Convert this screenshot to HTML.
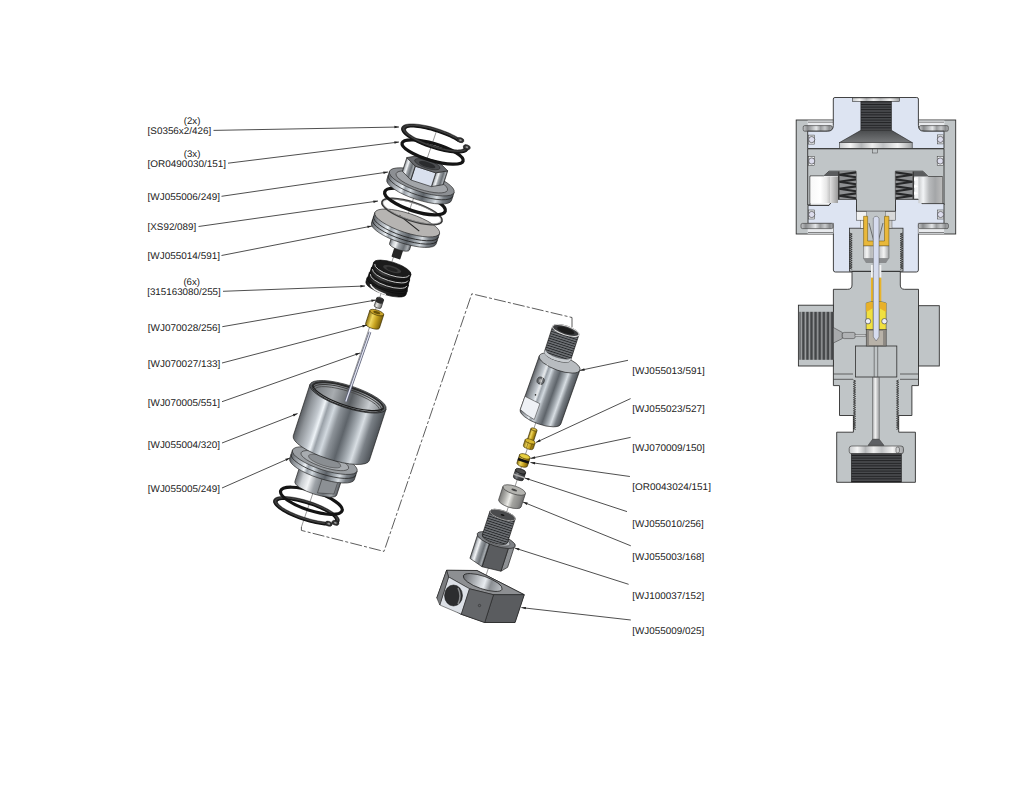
<!DOCTYPE html>
<html><head><meta charset="utf-8"><style>
html,body{margin:0;padding:0;background:#fff;}
svg{display:block;}
</style></head><body>
<svg width="1024" height="790" viewBox="0 0 1024 790">
<defs>
<linearGradient id="met" x1="0" x2="1" y1="0" y2="0">
 <stop offset="0" stop-color="#5a5e63"/><stop offset="0.08" stop-color="#8e9398"/>
 <stop offset="0.2" stop-color="#c4cad0"/><stop offset="0.25" stop-color="#eef3f7"/><stop offset="0.3" stop-color="#9aa1a8"/>
 <stop offset="0.38" stop-color="#d2d9df"/><stop offset="0.46" stop-color="#8c9298"/>
 <stop offset="0.58" stop-color="#5e646a"/><stop offset="0.72" stop-color="#aeb5bb"/><stop offset="0.78" stop-color="#d8dee3"/>
 <stop offset="0.88" stop-color="#7a8086"/><stop offset="1" stop-color="#4e5358"/>
</linearGradient>
<linearGradient id="met2" x1="0" x2="1" y1="0" y2="0">
 <stop offset="0" stop-color="#6a6e73"/><stop offset="0.15" stop-color="#c9cdd1"/>
 <stop offset="0.3" stop-color="#f2f4f6"/><stop offset="0.45" stop-color="#9da2a7"/>
 <stop offset="0.7" stop-color="#6b7075"/><stop offset="0.88" stop-color="#a8adb1"/>
 <stop offset="1" stop-color="#55595e"/>
</linearGradient>
<linearGradient id="blk" x1="0" x2="1" y1="0" y2="0">
 <stop offset="0" stop-color="#1a1a1a"/><stop offset="0.3" stop-color="#3a3a3a"/><stop offset="0.6" stop-color="#1e1e1e"/><stop offset="1" stop-color="#101010"/>
</linearGradient>
<linearGradient id="dark" x1="0" x2="1" y1="0" y2="0">
 <stop offset="0" stop-color="#3a3c3f"/><stop offset="0.3" stop-color="#7a7d80"/>
 <stop offset="0.5" stop-color="#4a4c4f"/><stop offset="1" stop-color="#2a2c2e"/>
</linearGradient>
<linearGradient id="brass" x1="0" x2="1" y1="0" y2="0">
 <stop offset="0" stop-color="#8a7010"/><stop offset="0.3" stop-color="#f0d860"/>
 <stop offset="0.6" stop-color="#c8a420"/><stop offset="1" stop-color="#7a6008"/>
</linearGradient>
<linearGradient id="silv2" x1="0" x2="1" y1="0" y2="0">
 <stop offset="0" stop-color="#7a7a78"/><stop offset="0.25" stop-color="#b8b8b4"/><stop offset="0.42" stop-color="#ecece8"/>
 <stop offset="0.6" stop-color="#a4a4a0"/><stop offset="0.85" stop-color="#8a8a88"/><stop offset="1" stop-color="#6a6a6a"/>
</linearGradient>
<linearGradient id="silv" x1="0" x2="1" y1="0" y2="0">
 <stop offset="0" stop-color="#8a8a88"/><stop offset="0.3" stop-color="#e8e8e4"/>
 <stop offset="0.6" stop-color="#b0b0ac"/><stop offset="1" stop-color="#707070"/>
</linearGradient>
<linearGradient id="ringg" x1="0" x2="1" y1="0" y2="0">
 <stop offset="0" stop-color="#c8cacc"/><stop offset="0.15" stop-color="#8a8c8e"/><stop offset="0.3" stop-color="#b4b6b8"/><stop offset="0.45" stop-color="#e4e6e8"/>
 <stop offset="0.6" stop-color="#9a9c9e"/><stop offset="0.75" stop-color="#c8cacc"/><stop offset="0.9" stop-color="#8a8c8e"/><stop offset="1" stop-color="#b0b2b4"/>
</linearGradient>
<linearGradient id="gap" x1="0" x2="1" y1="0" y2="0">
 <stop offset="0" stop-color="#e0e0e0"/><stop offset="1" stop-color="#9a9a9a"/>
</linearGradient>
<linearGradient id="silvh" x1="0" x2="1" y1="0" y2="0">
 <stop offset="0" stop-color="#c8cacc"/><stop offset="0.15" stop-color="#f6f6f6"/><stop offset="0.3" stop-color="#b4b6b8"/>
 <stop offset="0.45" stop-color="#eeeeee"/><stop offset="0.6" stop-color="#c0c2c4"/><stop offset="0.8" stop-color="#f4f4f4"/><stop offset="1" stop-color="#a0a2a4"/>
</linearGradient>
<linearGradient id="cone" x1="0" x2="0" y1="0" y2="1">
 <stop offset="0" stop-color="#4a4c4e"/><stop offset="1" stop-color="#76787a"/>
</linearGradient>
<linearGradient id="cupL" x1="0" x2="1" y1="0" y2="0">
 <stop offset="0" stop-color="#f8f8f8"/><stop offset="0.5" stop-color="#ffffff"/><stop offset="0.8" stop-color="#e6e6e6"/><stop offset="1" stop-color="#bdbdbd"/>
</linearGradient>
<linearGradient id="cupR" x1="0" x2="1" y1="0" y2="0">
 <stop offset="0" stop-color="#c8cacc"/><stop offset="0.2" stop-color="#f2f4f6"/><stop offset="0.45" stop-color="#b8babc"/><stop offset="0.7" stop-color="#a4a6a8"/><stop offset="1" stop-color="#bcbcbc"/>
</linearGradient>
<linearGradient id="stemg" x1="0" x2="1" y1="0" y2="0">
 <stop offset="0" stop-color="#a0a2a4"/><stop offset="0.4" stop-color="#f4f4f4"/><stop offset="1" stop-color="#9a9c9e"/>
</linearGradient>
<pattern id="portthr" width="4.1" height="10" patternUnits="userSpaceOnUse" x="799.4">
 <rect width="4.1" height="10" fill="#444648"/><rect x="1.2" width="1.2" height="10" fill="#a8aaac"/><rect x="2.4" width="0.6" height="10" fill="#6a6c6e"/>
</pattern>
<linearGradient id="inner" x1="0" x2="1" y1="0" y2="0">
 <stop offset="0" stop-color="#6a6e72"/><stop offset="0.3" stop-color="#a8acb0"/><stop offset="0.55" stop-color="#5a5e62"/><stop offset="0.8" stop-color="#c8ccd0"/><stop offset="1" stop-color="#7a7e82"/>
</linearGradient>
<linearGradient id="holeg" x1="0" x2="1" y1="0" y2="0">
 <stop offset="0" stop-color="#6a6c70"/><stop offset="0.35" stop-color="#b8bcc0"/><stop offset="0.55" stop-color="#e8ecf0"/><stop offset="0.7" stop-color="#8a8e92"/><stop offset="1" stop-color="#c0c4c8"/>
</linearGradient>
<pattern id="thr2" width="4" height="2.4" patternUnits="userSpaceOnUse">
 <rect width="4" height="2.4" fill="#6e7175"/><rect width="4" height="0.9" fill="#26282a"/>
</pattern>
<pattern id="thr" width="4" height="2.6" patternUnits="userSpaceOnUse">
 <rect width="4" height="2.6" fill="#4a4c4f"/><rect width="4" height="1" fill="#1e1f21"/>
</pattern>
</defs>
<rect width="1024" height="790" fill="#fff"/>
<g id="cs"><rect x="796.2" y="120" width="159.5" height="114" fill="#c0c5c7" stroke="#2f2f2f" stroke-width="0.9"/><rect x="807.7" y="120.6" width="26" height="10.6" fill="#e9ebee"/><rect x="918.4" y="120.6" width="26" height="10.6" fill="#e9ebee"/><rect x="803.2" y="125.6" width="29" height="5.6" rx="1.5" fill="url(#ringg)" stroke="#333" stroke-width="0.6"/><rect x="919.3" y="125.6" width="29" height="5.6" rx="1.5" fill="url(#ringg)" stroke="#333" stroke-width="0.6"/><line x1="808" y1="122.2" x2="833" y2="122.2" stroke="#555" stroke-width="0.7"/><line x1="919" y1="122.2" x2="944" y2="122.2" stroke="#555" stroke-width="0.7"/><path d="M833.3,99 Q833.3,97.5 835,97.5 H916.7 Q918.4,97.5 918.4,99 V125.5 Q918.4,131.2 924,131.2 H944 V148.5 H807.7 V131.2 H827.6 Q833.3,131.2 833.3,125.5 Z" fill="#dde4f2" stroke="#2f2f2f" stroke-width="0.9"/><rect x="852.5" y="97.9" width="46.9" height="3.4" fill="url(#silvh)" stroke="#333" stroke-width="0.6"/><rect x="860.9" y="101.3" width="30.5" height="29" fill="url(#thr)" stroke="#222" stroke-width="0.6"/><polygon points="860.9,130.3 891.4,130.3 912.2,142.6 839.5,142.6" fill="url(#cone)" stroke="#222" stroke-width="0.6"/><rect x="839.5" y="142.6" width="72.7" height="5.8" fill="url(#silvh)" stroke="#333" stroke-width="0.6"/><path d="M807.7,148.8 H944 V205 H895.5 V211.4 H856.5 V205 H807.7 Z" fill="#c0c5c7" stroke="#2f2f2f" stroke-width="0.9"/><rect x="872.5" y="149" width="5" height="4" fill="#c0c5c7" stroke="#444" stroke-width="0.5"/><path d="M808,205.3 H829 L833.4,199.2 H856.5 V211.4 H895.5 V199.2 H918.4 L922,203.6 H944 V223.4 H918.4 V270 Q918.4,272 916.4,272 H835.4 Q833.4,272 833.4,270 V223.4 H808 Z" fill="#dde4f2" stroke="#2f2f2f" stroke-width="0.9"/><polygon points="810,176 823.7,176 829,171.2 856,171.2 856,199.2 833.4,199.2 829,205.3 810,205.3" fill="#f2f3f4" stroke="#222" stroke-width="0.8"/><polygon points="895.4,171.2 922.9,171.2 928.2,176.5 942.4,176.5 942.4,203.5 922,203.5 918.4,199.2 895.4,199.2" fill="#f2f3f4" stroke="#222" stroke-width="0.8"/><rect x="810.5" y="176.5" width="20" height="26.5" fill="url(#cupL)"/><rect x="918.4" y="176.8" width="24" height="26.4" fill="url(#cupR)"/><polygon points="823.7,176 829,171.2 838,171.2 838,176" fill="#5a5c5e"/><polygon points="914,171.2 922.9,171.2 928.2,176.5 914,176.5" fill="#5a5c5e"/><rect x="830" y="176.5" width="8" height="26.5" fill="url(#gap)"/><rect x="838" y="171.4" width="18" height="27.8" fill="#8e9092"/><rect x="895.6" y="171.4" width="18.5" height="27.8" fill="#8e9092"/><path d="M856,172.4 L839,174.79999999999998 L856,177.2" fill="none" stroke="#262728" stroke-width="2.1"/><path d="M895.6,172.4 L912.6,174.79999999999998 L895.6,177.2" fill="none" stroke="#262728" stroke-width="2.1"/><path d="M856,179.4 L839,181.79999999999998 L856,184.2" fill="none" stroke="#262728" stroke-width="2.1"/><path d="M895.6,179.4 L912.6,181.79999999999998 L895.6,184.2" fill="none" stroke="#262728" stroke-width="2.1"/><path d="M856,186.4 L839,188.79999999999998 L856,191.2" fill="none" stroke="#262728" stroke-width="2.1"/><path d="M895.6,186.4 L912.6,188.79999999999998 L895.6,191.2" fill="none" stroke="#262728" stroke-width="2.1"/><path d="M856,193.4 L839,195.79999999999998 L856,198.2" fill="none" stroke="#262728" stroke-width="2.1"/><path d="M895.6,193.4 L912.6,195.79999999999998 L895.6,198.2" fill="none" stroke="#262728" stroke-width="2.1"/><rect x="838" y="171.4" width="1.5" height="27.8" fill="#3a3a3a"/><rect x="912.6" y="171.4" width="1.5" height="27.8" fill="#3a3a3a"/><polygon points="914,177.5 918.4,179.3 914,181.1" fill="#fff"/><polygon points="914,184.5 918.4,186.3 914,188.1" fill="#fff"/><polygon points="914,191.5 918.4,193.3 914,195.1" fill="#fff"/><rect x="808.7" y="135.1" width="6" height="9" fill="#eef0f2" stroke="#333" stroke-width="0.5"/><circle cx="811.7" cy="139.6" r="3.1" fill="#dcdcec" stroke="#333" stroke-width="0.6"/><rect x="937.4" y="134.9" width="6" height="9" fill="#eef0f2" stroke="#333" stroke-width="0.5"/><circle cx="940.4" cy="139.4" r="3.1" fill="#dcdcec" stroke="#333" stroke-width="0.6"/><rect x="808.7" y="156.5" width="6" height="9" fill="#eef0f2" stroke="#333" stroke-width="0.5"/><circle cx="811.7" cy="161" r="3.1" fill="#dcdcec" stroke="#333" stroke-width="0.6"/><rect x="937.2" y="156.5" width="6" height="9" fill="#eef0f2" stroke="#333" stroke-width="0.5"/><circle cx="940.2" cy="161" r="3.1" fill="#dcdcec" stroke="#333" stroke-width="0.6"/><rect x="808.7" y="210.0" width="6" height="9" fill="#eef0f2" stroke="#333" stroke-width="0.5"/><circle cx="811.7" cy="214.5" r="3.1" fill="#dcdcec" stroke="#333" stroke-width="0.6"/><rect x="937.6" y="210.0" width="6" height="9" fill="#eef0f2" stroke="#333" stroke-width="0.5"/><circle cx="940.6" cy="214.5" r="3.1" fill="#dcdcec" stroke="#333" stroke-width="0.6"/><rect x="807.7" y="223.4" width="25.7" height="10.3" fill="#e9ebee"/><rect x="918.4" y="223.4" width="25.7" height="10.3" fill="#e9ebee"/><rect x="801" y="223.4" width="32" height="5.2" rx="1.5" fill="url(#ringg)" stroke="#333" stroke-width="0.6"/><rect x="918.4" y="223.4" width="30" height="5.2" rx="1.5" fill="url(#ringg)" stroke="#333" stroke-width="0.6"/><line x1="808" y1="232.5" x2="833" y2="232.5" stroke="#555" stroke-width="0.7"/><line x1="919" y1="232.5" x2="944" y2="232.5" stroke="#555" stroke-width="0.7"/><rect x="849.4" y="228.2" width="53.6" height="43" fill="#c0c5c7" stroke="#2f2f2f" stroke-width="0.8"/><polyline points="849.6,233.0 852.2,234.1 849.6,235.2 852.2,236.3 849.6,237.4 852.2,238.5 849.6,239.6 852.2,240.7 849.6,241.8 852.2,242.9 849.6,244.0 852.2,245.1 849.6,246.2 852.2,247.3 849.6,248.4 852.2,249.5 849.6,250.6 852.2,251.7 849.6,252.8 852.2,253.9 849.6,255.0 852.2,256.1 849.6,257.2 852.2,258.3 849.6,259.4 852.2,260.5 849.6,261.6 852.2,262.7 849.6,263.8 852.2,264.9 849.6,266.0 852.2,267.1 849.6,268.2 852.2,269.3" fill="none" stroke="#222" stroke-width="0.8"/><polyline points="902.8,233.0 900.2,234.1 902.8,235.2 900.2,236.3 902.8,237.4 900.2,238.5 902.8,239.6 900.2,240.7 902.8,241.8 900.2,242.9 902.8,244.0 900.2,245.1 902.8,246.2 900.2,247.3 902.8,248.4 900.2,249.5 902.8,250.6 900.2,251.7 902.8,252.8 900.2,253.9 902.8,255.0 900.2,256.1 902.8,257.2 900.2,258.3 902.8,259.4 900.2,260.5 902.8,261.6 900.2,262.7 902.8,263.8 900.2,264.9 902.8,266.0 900.2,267.1 902.8,268.2 900.2,269.3" fill="none" stroke="#222" stroke-width="0.8"/><rect x="856.5" y="211.4" width="10.2" height="8.8" fill="#f0f1f2" stroke="#333" stroke-width="0.5"/><rect x="885.3" y="211.4" width="10.2" height="8.8" fill="#d8d9da" stroke="#333" stroke-width="0.5"/><rect x="860.4" y="220.2" width="3.2" height="8" fill="#eee" stroke="#444" stroke-width="0.4"/><rect x="888.8" y="220.2" width="3.2" height="8" fill="#ccc" stroke="#444" stroke-width="0.4"/><rect x="866.7" y="211.4" width="18.6" height="20" fill="#c0c5c7"/><path d="M863.6,216.3 H867.6 V241 H884.5 V216.3 H888.9 V246 H863.6 Z" fill="#e9b83a" stroke="#6a5000" stroke-width="0.5"/><path d="M869,223 L873.5,240 M883,223 L878.5,240" stroke="#333" stroke-width="0.6"/><rect x="863.2" y="246" width="25.8" height="12.5" fill="url(#silvh)" stroke="#444" stroke-width="0.4"/><polygon points="863.2,258.5 889,258.5 886,263 866,263" fill="#8a8c8e"/><path d="M852,271.5 H900.3 V285 Q900.3,289.3 904.6,289.3 H918.5 V385.6 H911.9 V415.5 H898.7 V432.2 H915.4 V482.3 H836.7 V432.2 H853.4 V415.5 H839.5 V385.6 H833.4 V289.3 H847.7 Q852,289.3 852,285 Z" fill="#c0c5c7" stroke="#2f2f2f" stroke-width="0.9"/><rect x="798.4" y="305.2" width="35" height="60.8" fill="#c0c5c7" stroke="#2f2f2f" stroke-width="0.9"/><rect x="799.4" y="311.8" width="34" height="48" fill="url(#portthr)"/><rect x="918.5" y="305.7" width="20.8" height="60.3" fill="#c0c5c7" stroke="#2f2f2f" stroke-width="0.9"/><polygon points="833.4,327.5 842.3,332.4 842.3,338.6 833.4,343" fill="#a8aaac" stroke="#333" stroke-width="0.5"/><rect x="842.3" y="332.4" width="13" height="6.2" rx="2" fill="#b0b2b4" stroke="#333" stroke-width="0.5"/><rect x="855" y="334.4" width="11" height="2.2" fill="#c8cacc" stroke="#444" stroke-width="0.4"/><path d="M833.4,374 H853 M833.4,379.3 H853 M900,374 H918.5 M900,379.3 H918.5" stroke="#333" stroke-width="0.7"/><rect x="855.6" y="346" width="41.2" height="31" fill="#c0c5c7" stroke="#2f2f2f" stroke-width="0.8"/><polyline points="853.4,380.0 855.6,381.1 853.4,382.2 855.6,383.3 853.4,384.4 855.6,385.5 853.4,386.6 855.6,387.7 853.4,388.8 855.6,389.9 853.4,391.0 855.6,392.1 853.4,393.2 855.6,394.3 853.4,395.4 855.6,396.5 853.4,397.6 855.6,398.7 853.4,399.8 855.6,400.9 853.4,402.0 855.6,403.1 853.4,404.2 855.6,405.3 853.4,406.4 855.6,407.5 853.4,408.6 855.6,409.7 853.4,410.8 855.6,411.9 853.4,413.0 855.6,414.1 853.4,415.2 855.6,416.3 853.4,417.4 855.6,418.5 853.4,419.6 855.6,420.7 853.4,421.8 855.6,422.9 853.4,424.0 855.6,425.1 853.4,426.2 855.6,427.3 853.4,428.4 855.6,429.5" fill="none" stroke="#222" stroke-width="0.8"/><polyline points="898.7,380.0 896.5,381.1 898.7,382.2 896.5,383.3 898.7,384.4 896.5,385.5 898.7,386.6 896.5,387.7 898.7,388.8 896.5,389.9 898.7,391.0 896.5,392.1 898.7,393.2 896.5,394.3 898.7,395.4 896.5,396.5 898.7,397.6 896.5,398.7 898.7,399.8 896.5,400.9 898.7,402.0 896.5,403.1 898.7,404.2 896.5,405.3 898.7,406.4 896.5,407.5 898.7,408.6 896.5,409.7 898.7,410.8 896.5,411.9 898.7,413.0 896.5,414.1 898.7,415.2 896.5,416.3 898.7,417.4 896.5,418.5 898.7,419.6 896.5,420.7 898.7,421.8 896.5,422.9 898.7,424.0 896.5,425.1 898.7,426.2 896.5,427.3 898.7,428.4 896.5,429.5" fill="none" stroke="#222" stroke-width="0.8"/><rect x="871" y="265" width="2.3" height="12.7" fill="#f4f4f4"/><rect x="879" y="265" width="2.3" height="12.7" fill="#f4f4f4"/><rect x="871" y="277.7" width="2.3" height="24.2" fill="#e8b42a"/><rect x="879" y="277.7" width="2.3" height="24.2" fill="#e8b42a"/><path d="M866.2,303 L871,301.7 L873.3,301.7 L873.3,330 L866.2,330 Z" fill="#f0e040" stroke="#333" stroke-width="0.5"/><path d="M879,301.7 L881.3,301.7 L886.2,303 L886.2,330 L879,330 Z" fill="#f0e040" stroke="#333" stroke-width="0.5"/><polygon points="866.2,303 873.3,301.7 873.3,308 866.2,312" fill="#e8b02a"/><polygon points="879,301.7 886.2,303 886.2,312 879,308" fill="#e8b02a"/><circle cx="868" cy="321.2" r="2.7" fill="#eceef8" stroke="#333" stroke-width="0.6"/><circle cx="884.4" cy="321.2" r="2.7" fill="#eceef8" stroke="#333" stroke-width="0.6"/><rect x="866.2" y="329.5" width="20" height="16.5" fill="#8e8a84" stroke="#333" stroke-width="0.5"/><rect x="869" y="331" width="14" height="14" fill="#b8b2a8"/><path d="M873.3,218 Q876.2,214.5 879,218 V337 L876.2,341 L873.3,337 Z" fill="#d6dcef" stroke="#555" stroke-width="0.5"/><path d="M874.2,346 V377 M877.7,346 V377" stroke="#444" stroke-width="0.6"/><rect x="872.6" y="377.5" width="6.6" height="62" fill="url(#stemg)" stroke="#555" stroke-width="0.5"/><polygon points="872.6,439.2 879.2,439.2 884,445.4 868,445.4" fill="#5e6064" stroke="#333" stroke-width="0.5"/><rect x="849.2" y="446" width="54.3" height="7.8" rx="2.5" fill="url(#silvh)" stroke="#333" stroke-width="0.6"/><rect x="896" y="447" width="3.5" height="6" rx="1.7" fill="none" stroke="#333" stroke-width="0.5"/><rect x="851.3" y="453.8" width="50.1" height="28.2" fill="url(#thr)" stroke="#222" stroke-width="0.6"/></g>
<g id="lp"><line x1="436.5" y1="131" x2="301.4" y2="527" stroke="#555" stroke-width="0.6"/><g transform="translate(306.50,510.50) rotate(18)"><g transform="translate(0,1.1)"><path d="M26.43,6.21 L24.12,6.91 L21.59,7.54 L18.84,8.09 L15.91,8.57 L12.83,8.97 L9.63,9.28 L6.33,9.50 L2.97,9.62 L-0.42,9.66 L-3.81,9.60 L-7.15,9.45 L-10.43,9.21 L-13.61,8.88 L-16.66,8.46 L-19.54,7.96 L-22.24,7.39 L-24.72,6.74 L-26.96,6.03 L-28.95,5.26 L-30.65,4.44 L-32.06,3.57 L-33.15,2.67 L-33.93,1.75 L-34.38,0.81 L-34.50,-0.14 L-34.28,-1.09 L-33.73,-2.02 L-32.86,-2.94 L-31.67,-3.83 L-30.17,-4.68 L-28.39,-5.49 L-26.33,-6.24 L-24.01,-6.94 L-21.46,-7.56 L-18.71,-8.12 L-15.77,-8.59 L-12.68,-8.98 L-9.47,-9.29 L-6.17,-9.50 L-2.81,-9.63 L0.58,-9.66 L3.97,-9.60 L7.31,-9.44 L10.58,-9.19 L13.76,-8.86 L16.80,-8.44 L19.67,-7.94 L22.36,-7.36 L24.83,-6.71 L27.06,-5.99 L29.03,-5.22 L30.72,-4.40 L32.11,-3.53 L33.20,-2.63 L33.96,-1.71 L34.39,-0.76 L34.49,0.19 L34.26,1.13 L33.70,2.07 L32.81,2.99 L29.01,2.22 L29.79,1.54 L30.29,0.84 L30.49,0.14 L30.40,-0.57 L30.02,-1.27 L29.35,-1.95 L28.39,-2.62 L27.16,-3.27 L25.67,-3.88 L23.92,-4.45 L21.95,-4.98 L19.77,-5.47 L17.39,-5.90 L14.85,-6.27 L12.16,-6.58 L9.36,-6.83 L6.46,-7.02 L3.51,-7.13 L0.51,-7.18 L-2.48,-7.16 L-5.45,-7.06 L-8.37,-6.90 L-11.21,-6.68 L-13.94,-6.39 L-16.54,-6.03 L-18.97,-5.62 L-21.23,-5.16 L-23.27,-4.64 L-25.10,-4.08 L-26.68,-3.48 L-28.00,-2.85 L-29.05,-2.19 L-29.82,-1.51 L-30.31,-0.81 L-30.50,-0.10 L-30.39,0.60 L-30.00,1.30 L-29.31,1.99 L-28.34,2.65 L-27.09,3.30 L-25.59,3.91 L-23.84,4.48 L-21.85,5.01 L-19.66,5.49 L-17.28,5.92 L-14.72,6.29 L-12.03,6.60 L-9.22,6.84 L-6.32,7.02 L-3.36,7.14 L-0.37,7.18 L2.62,7.15 L5.59,7.06 L8.51,6.89 L11.34,6.66 L14.07,6.37 L16.66,6.01 L19.08,5.60 L21.33,5.13 L23.36,4.62 Z" fill="#111" stroke="none" stroke-width="0.4"/></g><path d="M26.43,6.21 L24.12,6.91 L21.59,7.54 L18.84,8.09 L15.91,8.57 L12.83,8.97 L9.63,9.28 L6.33,9.50 L2.97,9.62 L-0.42,9.66 L-3.81,9.60 L-7.15,9.45 L-10.43,9.21 L-13.61,8.88 L-16.66,8.46 L-19.54,7.96 L-22.24,7.39 L-24.72,6.74 L-26.96,6.03 L-28.95,5.26 L-30.65,4.44 L-32.06,3.57 L-33.15,2.67 L-33.93,1.75 L-34.38,0.81 L-34.50,-0.14 L-34.28,-1.09 L-33.73,-2.02 L-32.86,-2.94 L-31.67,-3.83 L-30.17,-4.68 L-28.39,-5.49 L-26.33,-6.24 L-24.01,-6.94 L-21.46,-7.56 L-18.71,-8.12 L-15.77,-8.59 L-12.68,-8.98 L-9.47,-9.29 L-6.17,-9.50 L-2.81,-9.63 L0.58,-9.66 L3.97,-9.60 L7.31,-9.44 L10.58,-9.19 L13.76,-8.86 L16.80,-8.44 L19.67,-7.94 L22.36,-7.36 L24.83,-6.71 L27.06,-5.99 L29.03,-5.22 L30.72,-4.40 L32.11,-3.53 L33.20,-2.63 L33.96,-1.71 L34.39,-0.76 L34.49,0.19 L34.26,1.13 L33.70,2.07 L32.81,2.99 L29.01,2.22 L29.79,1.54 L30.29,0.84 L30.49,0.14 L30.40,-0.57 L30.02,-1.27 L29.35,-1.95 L28.39,-2.62 L27.16,-3.27 L25.67,-3.88 L23.92,-4.45 L21.95,-4.98 L19.77,-5.47 L17.39,-5.90 L14.85,-6.27 L12.16,-6.58 L9.36,-6.83 L6.46,-7.02 L3.51,-7.13 L0.51,-7.18 L-2.48,-7.16 L-5.45,-7.06 L-8.37,-6.90 L-11.21,-6.68 L-13.94,-6.39 L-16.54,-6.03 L-18.97,-5.62 L-21.23,-5.16 L-23.27,-4.64 L-25.10,-4.08 L-26.68,-3.48 L-28.00,-2.85 L-29.05,-2.19 L-29.82,-1.51 L-30.31,-0.81 L-30.50,-0.10 L-30.39,0.60 L-30.00,1.30 L-29.31,1.99 L-28.34,2.65 L-27.09,3.30 L-25.59,3.91 L-23.84,4.48 L-21.85,5.01 L-19.66,5.49 L-17.28,5.92 L-14.72,6.29 L-12.03,6.60 L-9.22,6.84 L-6.32,7.02 L-3.36,7.14 L-0.37,7.18 L2.62,7.15 L5.59,7.06 L8.51,6.89 L11.34,6.66 L14.07,6.37 L16.66,6.01 L19.08,5.60 L21.33,5.13 L23.36,4.62 Z" fill="#2a2a2a" stroke="#111" stroke-width="0.4"/><path d="M22.58,6.06 L19.65,6.71 L16.45,7.26 L13.02,7.71 L9.41,8.06 L5.67,8.29 L1.84,8.41 L-2.01,8.40 L-5.83,8.28 L-9.57,8.05 L-13.18,7.70 L-16.60,7.24 L-19.78,6.68 L-22.70,6.03 L-25.29,5.29 L-27.52,4.48 L-29.37,3.60 L-30.81,2.68 L-31.82,1.71 L-32.38,0.73 L-32.48,-0.27 L-32.13,-1.26 L-31.33,-2.24 L-30.09,-3.18 L-28.43,-4.08 L-26.36,-4.92 L-23.93,-5.70 L-21.16,-6.39 L-18.10,-6.99 L-14.78,-7.50 L-11.25,-7.90 L-7.56,-8.19 L-3.77,-8.36 L0.07,-8.42 L3.91,-8.36 L7.70,-8.18 L11.38,-7.89 L14.90,-7.48 L18.21,-6.97 L21.27,-6.37 L24.03,-5.67 L26.45,-4.89 L28.49,-4.05 L30.14,-3.15 L31.37,-2.20 L32.15,-1.23 L32.49,-0.23 L32.37,0.76 L31.79,1.75" fill="none" stroke="#5a5a5a" stroke-width="0.5"/><ellipse cx="31.29" cy="2.74" rx="3.6" ry="2.4" fill="#333" stroke="#111" stroke-width="0.5"/><ellipse cx="31.29" cy="2.74" rx="1.4" ry="0.9" fill="#999"/><ellipse cx="25.20" cy="5.70" rx="3.6" ry="2.4" fill="#333" stroke="#111" stroke-width="0.5"/><ellipse cx="25.20" cy="5.70" rx="1.4" ry="0.9" fill="#999"/></g><g transform="translate(311.40,500.80) rotate(18)"><ellipse cx="0" cy="0" rx="32.3" ry="9.69" fill="none" stroke="#141414" stroke-width="3.2"/></g><g transform="translate(324.80,460.60) rotate(18)"><path d="M-22,9 L-22,29 A22,6.2 0 0 0 22,29 L22,9 Z" fill="url(#met2)" stroke="#222" stroke-width="0.6"/><polygon points="3,13 19,11 19,29 3,33" fill="#8c9094" stroke="#333" stroke-width="0.5"/><path d="M-34,0 L-34,9 A34,9.520000000000001 0 0 0 34,9 L34,0 Z" fill="url(#met)" stroke="#222" stroke-width="0.6"/><ellipse cx="0" cy="0" rx="34" ry="9.52" fill="#9a9ea2" stroke="#222" stroke-width="0.6"/><path d="M-34,4.2 A34,9.52 0 0 0 34,4.2" fill="none" stroke="#222" stroke-width="0.7"/><ellipse cx="0" cy="0" rx="25" ry="6.8" fill="#a8acb0" stroke="#333" stroke-width="0.6"/><ellipse cx="0" cy="0.5" rx="17" ry="4.6" fill="#8a8e92" stroke="#444" stroke-width="0.5"/></g><g transform="translate(348.00,396.80) rotate(18)"><path d="M-40,0 L-40,54 A40,11.200000000000001 0 0 0 40,54 L40,0 Z" fill="url(#met)" stroke="#1a1a1a" stroke-width="0.6"/><ellipse cx="0" cy="0" rx="40" ry="11.20" fill="#5a5e62" stroke="#1a1a1a" stroke-width="0.6"/><ellipse cx="0" cy="0.3" rx="37.5" ry="10.2" fill="url(#inner)" stroke="#1a1a1a" stroke-width="0.8"/><path d="M-37,0.6 A37,10 0 0 1 37,0.6" fill="none" stroke="#2a2a2a" stroke-width="1.4"/><path d="M-35.5,2 A35.5,9.4 0 0 1 35.5,2" fill="none" stroke="#3a3a3a" stroke-width="1"/><path d="M-34,3.4 A34,8.8 0 0 1 34,3.4" fill="none" stroke="#4a4a4a" stroke-width="0.8"/><path d="M-37,0.3 A37.5,10.2 0 0 0 37,0.3" fill="none" stroke="#1a1a1a" stroke-width="1.2"/></g><line x1="370" y1="332" x2="345.8" y2="401.5" stroke="#5c6078" stroke-width="2.7"/><line x1="370" y1="332" x2="345.8" y2="401.5" stroke="#e4e6f2" stroke-width="1.2"/><g transform="translate(376.80,312.60) rotate(18)"><path d="M-7.3,0 L-7.3,14 A7.3,2.482 0 0 0 7.3,14 L7.3,0 Z" fill="url(#brass)" stroke="#3a2c00" stroke-width="0.6"/><ellipse cx="0" cy="0" rx="7.3" ry="2.48" fill="#caa52a" stroke="#3a2c00" stroke-width="0.6"/><ellipse cx="0" cy="0" rx="3.6" ry="1.3" fill="#6a5408"/></g><g transform="translate(380.20,299.00) rotate(18)"><path d="M-3.6,0 L-3.6,8 A3.6,1.4400000000000002 0 0 0 3.6,8 L3.6,0 Z" fill="url(#silv)" stroke="#222" stroke-width="0.6"/><ellipse cx="0" cy="0" rx="3.6" ry="1.44" fill="#3a3a3a" stroke="#222" stroke-width="0.6"/><path d="M-3.6,0 L-3.6,3 A3.6,1.4 0 0 0 3.6,3 L3.6,0 Z" fill="#2a2a2a"/></g><g transform="translate(392.30,268.60) rotate(18)"><g transform="translate(0,16.5)"><path d="M-21.1,0 L-21.1,3.8 A21.1,6.752000000000001 0 0 0 21.1,3.8 L21.1,0 Z" fill="url(#blk)" stroke="#0a0a0a" stroke-width="0.6"/><ellipse cx="0" cy="0" rx="21.1" ry="6.75" fill="#1b1b1b" stroke="#0a0a0a" stroke-width="0.6"/></g><g transform="translate(0,11.0)"><path d="M-20.6,0 L-20.6,3.8 A20.6,6.5920000000000005 0 0 0 20.6,3.8 L20.6,0 Z" fill="url(#blk)" stroke="#0a0a0a" stroke-width="0.6"/><ellipse cx="0" cy="0" rx="20.6" ry="6.59" fill="#1b1b1b" stroke="#0a0a0a" stroke-width="0.6"/><path d="M-19.1,1.0 A19.1,6.19 0 0 0 19.1,1.0" fill="none" stroke="#c8c8c8" stroke-width="0.9"/></g><g transform="translate(0,5.5)"><path d="M-20.1,0 L-20.1,3.8 A20.1,6.432 0 0 0 20.1,3.8 L20.1,0 Z" fill="url(#blk)" stroke="#0a0a0a" stroke-width="0.6"/><ellipse cx="0" cy="0" rx="20.1" ry="6.43" fill="#1b1b1b" stroke="#0a0a0a" stroke-width="0.6"/><path d="M-18.6,1.0 A18.6,6.03 0 0 0 18.6,1.0" fill="none" stroke="#c8c8c8" stroke-width="0.9"/></g><g transform="translate(0,0.0)"><path d="M-19.6,0 L-19.6,3.8 A19.6,6.272 0 0 0 19.6,3.8 L19.6,0 Z" fill="url(#blk)" stroke="#0a0a0a" stroke-width="0.6"/><ellipse cx="0" cy="0" rx="19.6" ry="6.27" fill="#1b1b1b" stroke="#0a0a0a" stroke-width="0.6"/><path d="M-18.1,1.0 A18.1,5.87 0 0 0 18.1,1.0" fill="none" stroke="#c8c8c8" stroke-width="0.9"/></g><ellipse cx="0" cy="0.5" rx="9.5" ry="3" fill="#3a3a3a"/><ellipse cx="0" cy="0.8" rx="6" ry="1.8" fill="#222"/><path d="M-16,21.5 A20.5,6.3 0 0 0 2,26.8" fill="none" stroke="#f0f0f0" stroke-width="1.4"/></g><g transform="translate(407.20,223.00) rotate(18)"><rect x="-4.6" y="25" width="9.2" height="12" rx="1" fill="#262626"/><g transform="translate(0,9)"><path d="M-10.5,0 L-10.5,16 A10.5,3.15 0 0 0 10.5,16 L10.5,0 Z" fill="url(#met2)" stroke="#222" stroke-width="0.6"/></g><path d="M-34,0 L-34,11 A34,9.69 0 0 0 34,11 L34,0 Z" fill="url(#met)" stroke="#222" stroke-width="0.6"/><ellipse cx="0" cy="0" rx="34" ry="9.69" fill="#b6b4b2" stroke="#222" stroke-width="0.6"/><path d="M-34,4 A34,9.69 0 0 0 34,4" fill="none" stroke="#222" stroke-width="0.8"/><path d="M-34,7.5 A34,9.69 0 0 0 34,7.5" fill="none" stroke="#222" stroke-width="0.8"/><line x1="-10" y1="-5" x2="14" y2="4" stroke="#222" stroke-width="1.1"/></g><g transform="translate(412.00,211.50) rotate(18)"><ellipse cx="0" cy="0" rx="31.5" ry="9.13" fill="none" stroke="#3a3a3a" stroke-width="1.8"/><ellipse cx="0" cy="0" rx="30.2" ry="8.46" fill="none" stroke="#aaa" stroke-width="0.6"/></g><g transform="translate(415.00,201.50) rotate(18)"><ellipse cx="0" cy="0" rx="31.8" ry="9.54" fill="none" stroke="#141414" stroke-width="3.3"/></g><g transform="translate(421.80,181.90) rotate(18)"><path d="M-34,0 L-34,8.5 A34,9.86 0 0 0 34,8.5 L34,0 Z" fill="url(#met)" stroke="#222" stroke-width="0.6"/><ellipse cx="0" cy="0" rx="34" ry="9.86" fill="#8c8f93" stroke="#222" stroke-width="0.6"/><path d="M-34,4 A34,9.86 0 0 0 34,4" fill="none" stroke="#222" stroke-width="0.7"/><ellipse cx="0" cy="0" rx="27" ry="7.6" fill="#a2a5a9" stroke="#333" stroke-width="0.6"/></g><g transform="translate(427.30,164.20) rotate(18)"><polygon points="21.50,0.00 10.75,5.59 10.75,20.09 21.50,14.50" fill="url(#met2)" stroke="#222" stroke-width="0.6"/><polygon points="10.75,5.59 -10.75,5.59 -10.75,20.09 10.75,20.09" fill="#d9e0ee" stroke="#222" stroke-width="0.6"/><polygon points="-10.75,5.59 -21.50,0.00 -21.50,14.50 -10.75,20.09" fill="url(#met2)" stroke="#222" stroke-width="0.6"/><polygon points="21.50,0.00 10.75,5.59 -10.75,5.59 -21.50,0.00 -10.75,-5.59 10.75,-5.59" fill="#66686c" stroke="#222" stroke-width="0.6"/><ellipse cx="0" cy="0" rx="13.33" ry="4.00" fill="#4a4c4f" stroke="#222" stroke-width="0.5"/><ellipse cx="0" cy="0.4" rx="8.60" ry="2.58" fill="#2a2b2d"/></g><g transform="translate(432.60,152.00) rotate(16.5)"><ellipse cx="0" cy="0" rx="31.8" ry="8.59" fill="none" stroke="#141414" stroke-width="3.3"/></g><g transform="translate(435.00,138.20) rotate(18)"><g transform="translate(0,1.1)"><path d="M34.66,-1.36 L34.96,-0.44 L34.96,0.49 L34.63,1.41 L34.00,2.33 L33.06,3.22 L31.82,4.08 L30.30,4.90 L28.51,5.69 L26.45,6.42 L24.17,7.09 L21.66,7.70 L18.96,8.24 L16.09,8.70 L13.07,9.09 L9.94,9.40 L6.72,9.62 L3.44,9.75 L0.12,9.80 L-3.19,9.76 L-6.48,9.63 L-9.71,9.42 L-12.85,9.12 L-15.87,8.73 L-18.75,8.27 L-21.47,7.74 L-23.99,7.14 L-26.29,6.47 L-28.36,5.74 L-30.18,4.96 L-31.72,4.14 L-32.98,3.28 L-33.94,2.39 L-34.60,1.48 L-34.94,0.56 L-34.97,-0.37 L-34.69,-1.30 L-34.10,-2.21 L-33.20,-3.10 L-32.00,-3.97 L-30.51,-4.80 L-28.75,-5.59 L-26.73,-6.33 L-24.47,-7.01 L-21.99,-7.62 L-19.32,-8.17 L-16.47,-8.65 L-13.47,-9.05 L-10.35,-9.36 L-7.14,-9.59 L-3.86,-9.74 L-0.55,-9.80 L2.77,-9.77 L6.06,-9.65 L9.29,-9.45 L12.45,-9.16 L15.49,-8.79 L18.39,-8.34 L21.13,-7.81 L23.68,-7.22 L26.01,-6.56 L22.89,-4.82 L20.83,-5.30 L18.59,-5.74 L16.18,-6.12 L13.63,-6.45 L10.95,-6.73 L8.18,-6.94 L5.33,-7.09 L2.43,-7.17 L-0.48,-7.20 L-3.40,-7.15 L-6.28,-7.04 L-9.11,-6.87 L-11.85,-6.64 L-14.49,-6.35 L-17.00,-6.00 L-19.36,-5.60 L-21.54,-5.14 L-23.52,-4.64 L-25.30,-4.10 L-26.85,-3.53 L-28.16,-2.92 L-29.21,-2.28 L-30.01,-1.62 L-30.53,-0.95 L-30.78,-0.27 L-30.75,0.41 L-30.45,1.09 L-29.87,1.76 L-29.02,2.41 L-27.91,3.04 L-26.56,3.65 L-24.96,4.22 L-23.14,4.75 L-21.11,5.24 L-18.89,5.68 L-16.50,6.08 L-13.97,6.41 L-11.30,6.69 L-8.54,6.91 L-5.70,7.07 L-2.81,7.17 L0.11,7.20 L3.02,7.16 L5.91,7.06 L8.75,6.90 L11.50,6.68 L14.16,6.39 L16.68,6.05 L19.06,5.65 L21.27,5.21 L23.28,4.71 L25.09,4.18 L26.66,3.60 L28.00,3.00 L29.09,2.36 L29.92,1.71 L30.48,1.04 L30.76,0.36 L30.77,-0.32 L30.50,-1.00 Z" fill="#111" stroke="none" stroke-width="0.4"/></g><path d="M34.66,-1.36 L34.96,-0.44 L34.96,0.49 L34.63,1.41 L34.00,2.33 L33.06,3.22 L31.82,4.08 L30.30,4.90 L28.51,5.69 L26.45,6.42 L24.17,7.09 L21.66,7.70 L18.96,8.24 L16.09,8.70 L13.07,9.09 L9.94,9.40 L6.72,9.62 L3.44,9.75 L0.12,9.80 L-3.19,9.76 L-6.48,9.63 L-9.71,9.42 L-12.85,9.12 L-15.87,8.73 L-18.75,8.27 L-21.47,7.74 L-23.99,7.14 L-26.29,6.47 L-28.36,5.74 L-30.18,4.96 L-31.72,4.14 L-32.98,3.28 L-33.94,2.39 L-34.60,1.48 L-34.94,0.56 L-34.97,-0.37 L-34.69,-1.30 L-34.10,-2.21 L-33.20,-3.10 L-32.00,-3.97 L-30.51,-4.80 L-28.75,-5.59 L-26.73,-6.33 L-24.47,-7.01 L-21.99,-7.62 L-19.32,-8.17 L-16.47,-8.65 L-13.47,-9.05 L-10.35,-9.36 L-7.14,-9.59 L-3.86,-9.74 L-0.55,-9.80 L2.77,-9.77 L6.06,-9.65 L9.29,-9.45 L12.45,-9.16 L15.49,-8.79 L18.39,-8.34 L21.13,-7.81 L23.68,-7.22 L26.01,-6.56 L22.89,-4.82 L20.83,-5.30 L18.59,-5.74 L16.18,-6.12 L13.63,-6.45 L10.95,-6.73 L8.18,-6.94 L5.33,-7.09 L2.43,-7.17 L-0.48,-7.20 L-3.40,-7.15 L-6.28,-7.04 L-9.11,-6.87 L-11.85,-6.64 L-14.49,-6.35 L-17.00,-6.00 L-19.36,-5.60 L-21.54,-5.14 L-23.52,-4.64 L-25.30,-4.10 L-26.85,-3.53 L-28.16,-2.92 L-29.21,-2.28 L-30.01,-1.62 L-30.53,-0.95 L-30.78,-0.27 L-30.75,0.41 L-30.45,1.09 L-29.87,1.76 L-29.02,2.41 L-27.91,3.04 L-26.56,3.65 L-24.96,4.22 L-23.14,4.75 L-21.11,5.24 L-18.89,5.68 L-16.50,6.08 L-13.97,6.41 L-11.30,6.69 L-8.54,6.91 L-5.70,7.07 L-2.81,7.17 L0.11,7.20 L3.02,7.16 L5.91,7.06 L8.75,6.90 L11.50,6.68 L14.16,6.39 L16.68,6.05 L19.06,5.65 L21.27,5.21 L23.28,4.71 L25.09,4.18 L26.66,3.60 L28.00,3.00 L29.09,2.36 L29.92,1.71 L30.48,1.04 L30.76,0.36 L30.77,-0.32 L30.50,-1.00 Z" fill="#2a2a2a" stroke="#111" stroke-width="0.4"/><path d="M32.88,-0.30 L32.80,0.67 L32.29,1.63 L31.36,2.57 L30.02,3.48 L28.29,4.34 L26.19,5.14 L23.75,5.88 L21.00,6.54 L17.98,7.12 L14.72,7.60 L11.27,7.98 L7.68,8.26 L3.99,8.44 L0.24,8.50 L-3.51,8.45 L-7.21,8.29 L-10.82,8.02 L-14.29,7.65 L-17.58,7.18 L-20.63,6.62 L-23.42,5.97 L-25.90,5.24 L-28.04,4.45 L-29.82,3.59 L-31.21,2.69 L-32.19,1.75 L-32.76,0.80 L-32.89,-0.17 L-32.60,-1.14 L-31.89,-2.09 L-30.76,-3.02 L-29.23,-3.90 L-27.32,-4.74 L-25.05,-5.51 L-22.46,-6.21 L-19.57,-6.83 L-16.43,-7.36 L-13.07,-7.80 L-9.55,-8.13 L-5.90,-8.36 L-2.18,-8.48 L1.58,-8.49 L5.31,-8.39 L8.98,-8.18 L12.52,-7.86 L15.91,-7.44 L19.09,-6.92 L22.01,-6.32" fill="none" stroke="#5a5a5a" stroke-width="0.5"/><ellipse cx="24.76" cy="-6.00" rx="3.6" ry="2.4" fill="#333" stroke="#111" stroke-width="0.5"/><ellipse cx="24.76" cy="-6.00" rx="1.4" ry="0.9" fill="#999"/><ellipse cx="33.00" cy="-1.25" rx="3.6" ry="2.4" fill="#333" stroke="#111" stroke-width="0.5"/><ellipse cx="33.00" cy="-1.25" rx="1.4" ry="0.9" fill="#999"/></g></g>
<g id="rp"><line x1="566" y1="330" x2="478" y2="600" stroke="#555" stroke-width="0.6"/><polygon points="446.6,570.3 476.9,570.5 524.2,594.7 515,622.5 484.7,622.5 460.8,614.2 436.8,598" fill="#5e6064" stroke="#1a1a1a" stroke-width="0.8"/><polygon points="446.6,570.3 476.9,570.5 524.2,594.7 493.5,594.7 469.5,588.8 448.6,577" fill="#8d8f92" stroke="#1a1a1a" stroke-width="0.6"/><polygon points="448.6,577 469.5,588.8 461.3,614.2 439.8,605" fill="#dce0e6" stroke="#1a1a1a" stroke-width="0.5"/><polygon points="446.6,570.3 448.6,577 439.8,605 436.8,598" fill="#7a7c7f" stroke="#1a1a1a" stroke-width="0.5"/><polygon points="493.5,594.7 524.2,594.7 515,622.5 484.7,622.5" fill="#5a5c5f" stroke="#1a1a1a" stroke-width="0.5"/><polygon points="469.5,588.8 493.5,594.7 484.7,622.5 461.3,614.2" fill="#646669" stroke="#1a1a1a" stroke-width="0.5"/><ellipse cx="482.7" cy="582.5" rx="20.5" ry="6.3" transform="rotate(19 482.7 582.5)" fill="url(#holeg)" stroke="#1a1a1a" stroke-width="0.7"/><ellipse cx="453.5" cy="595.5" rx="9" ry="10.5" fill="#2c2d2f" stroke="#111" stroke-width="0.5"/><path d="M458,588 Q462,596 458,604" stroke="#8a8c8e" stroke-width="1.5" fill="none"/><circle cx="479.5" cy="605.5" r="1.2" fill="none" stroke="#222" stroke-width="0.5"/><g transform="translate(496.20,540.00) rotate(18)"><polygon points="19.32,-1.55 14.14,4.24 14.14,28.24 19.32,22.45" fill="#8e9194" stroke="#1a1a1a" stroke-width="0.6"/><polygon points="14.14,4.24 -5.18,5.80 -5.18,29.80 14.14,28.24" fill="#5a5c5f" stroke="#1a1a1a" stroke-width="0.6"/><polygon points="-5.18,5.80 -19.32,1.55 -19.32,25.55 -5.18,29.80" fill="url(#met2)" stroke="#1a1a1a" stroke-width="0.6"/><ellipse cx="0" cy="0" rx="20" ry="6.00" fill="#7e8185" stroke="#1a1a1a" stroke-width="0.6"/><ellipse cx="0" cy="0" rx="14.5" ry="4.4" fill="#b8bcc0" stroke="#333" stroke-width="0.5"/></g><g transform="translate(502.60,515.00) rotate(18)"><path d="M-13.2,0 L-13.2,25 A13.2,4.224 0 0 0 13.2,25 L13.2,0 Z" fill="url(#thr2)" stroke="#111" stroke-width="0.6"/><ellipse cx="0" cy="0" rx="13.2" ry="4.22" fill="#4a4b4d" stroke="#111" stroke-width="0.6"/><ellipse cx="0" cy="0" rx="13.2" ry="4.2" fill="none" stroke="#aaa" stroke-width="0.8"/><ellipse cx="0" cy="0" rx="2" ry="0.8" fill="#111"/></g><g transform="translate(514.20,490.00) rotate(18)"><path d="M-11.8,0 L-11.8,14 A11.8,4.0120000000000005 0 0 0 11.8,14 L11.8,0 Z" fill="url(#silv2)" stroke="#333" stroke-width="0.6"/><ellipse cx="0" cy="0" rx="11.8" ry="4.01" fill="#b4b4b0" stroke="#333" stroke-width="0.6"/><ellipse cx="0" cy="0" rx="3" ry="1" fill="#444"/></g><g transform="translate(520.60,471.20) rotate(18)"><path d="M-5.3,0 L-5.3,7 A5.3,2.226 0 0 0 5.3,7 L5.3,0 Z" fill="url(#dark)" stroke="#111" stroke-width="0.6"/><ellipse cx="0" cy="0" rx="5.3" ry="2.23" fill="#4a4a4a" stroke="#111" stroke-width="0.6"/><rect x="-5.5" y="4.3" width="11" height="1.5" fill="#aaa"/></g><g transform="translate(524.80,456.40) rotate(18)"><path d="M-5.5,0 L-5.5,8.5 A5.5,2.31 0 0 0 5.5,8.5 L5.5,0 Z" fill="url(#brass)" stroke="#3a2c00" stroke-width="0.6"/><ellipse cx="0" cy="0" rx="5.5" ry="2.31" fill="#e8d040" stroke="#3a2c00" stroke-width="0.6"/><rect x="-5.7" y="3.2" width="11.4" height="2.8" fill="#111"/></g><g transform="translate(534.00,429.50) rotate(18)"><path d="M-3.2,0 L-3.2,12.5 A3.2,1.2800000000000002 0 0 0 3.2,12.5 L3.2,0 Z" fill="url(#brass)" stroke="#3a2c00" stroke-width="0.6"/><ellipse cx="0" cy="0" rx="3.2" ry="1.28" fill="#e0c040" stroke="#3a2c00" stroke-width="0.6"/><path d="M-5.3,12.5 L-5.3,18.3 A5.3,2.1 0 0 0 5.3,18.3 L5.3,12.5 Z" fill="url(#brass)" stroke="#3a2c00" stroke-width="0.5"/><ellipse cx="0" cy="12.5" rx="5.3" ry="2.1" fill="#d8b830" stroke="#3a2c00" stroke-width="0.5"/><line x1="-1.5" y1="13.5" x2="-1.5" y2="20" stroke="#6a5000" stroke-width="0.5"/><line x1="2.5" y1="13.5" x2="2.5" y2="20" stroke="#6a5000" stroke-width="0.5"/></g><g transform="translate(559.60,363.00) rotate(19.5)"><path d="M-21.5,0 L-21.5,57 A21.5,7.5249999999999995 0 0 0 21.5,57 L21.5,0 Z" fill="url(#met)" stroke="#1a1a1a" stroke-width="0.6"/><ellipse cx="0" cy="0" rx="21.5" ry="7.52" fill="#b8bcc0" stroke="#1a1a1a" stroke-width="0.6"/><path d="M-21.5,43 L-5,45 L-5,61.8 Q-14,60.5 -21.5,57 Z" fill="#eef1f5" stroke="#333" stroke-width="0.5" /><circle cx="-12" cy="23" r="3.6" fill="#6a6e72" stroke="#222" stroke-width="0.6"/><circle cx="-12" cy="23" r="1.6" fill="#aaa"/><circle cx="-12" cy="38" r="0.9" fill="#333"/><line x1="-11" y1="5" x2="-11" y2="41" stroke="#ddd" stroke-width="0.7"/></g><g transform="translate(565.80,330.50) rotate(18)"><path d="M-13.8,0 L-13.8,27 A13.8,4.554 0 0 0 13.8,27 L13.8,0 Z" fill="url(#thr2)" stroke="#111" stroke-width="0.6"/><ellipse cx="0" cy="0" rx="13.8" ry="4.55" fill="#3a3b3d" stroke="#111" stroke-width="0.6"/><ellipse cx="0" cy="0" rx="13.8" ry="4.5" fill="none" stroke="#ddd" stroke-width="1"/><ellipse cx="0" cy="0" rx="9" ry="3" fill="#1c1c1c"/><path d="M-13.8,24 A13.8,4.6 0 0 0 13.8,24 L13.8,27 A13.8,4.6 0 0 1 -13.8,27 Z" fill="#c8ccd0"/></g></g>
<polyline points="572,327 572,317.5 471.8,293.8 384,551.4 301.4,530.4 301.4,527" fill="none" stroke="#333" stroke-width="0.8" stroke-dasharray="12,2.2,3,2.2"/>
<g stroke="#222" stroke-width="0.8"><line x1="213.5" y1="130.4" x2="399" y2="127"/><path d="M399.00,127.00 L394.42,128.33 L394.38,125.83 Z" fill="#222" stroke="none"/><line x1="228" y1="163.2" x2="399" y2="142"/><path d="M399.00,142.00 L394.59,143.81 L394.28,141.33 Z" fill="#222" stroke="none"/><line x1="221.5" y1="196.3" x2="388" y2="172"/><path d="M388.00,172.00 L383.63,173.90 L383.27,171.43 Z" fill="#222" stroke="none"/><line x1="198.5" y1="226.5" x2="378" y2="201"/><path d="M378.00,201.00 L373.62,202.88 L373.27,200.41 Z" fill="#222" stroke="none"/><line x1="221.5" y1="255.5" x2="372" y2="226"/><path d="M372.00,226.00 L367.73,228.11 L367.25,225.66 Z" fill="#222" stroke="none"/><line x1="223" y1="291.3" x2="365" y2="286"/><path d="M365.00,286.00 L360.45,287.42 L360.36,284.92 Z" fill="#222" stroke="none"/><line x1="222.3" y1="326.7" x2="376" y2="300"/><path d="M376.00,300.00 L371.68,302.02 L371.25,299.56 Z" fill="#222" stroke="none"/><line x1="222" y1="363" x2="367" y2="325"/><path d="M367.00,325.00 L362.87,327.38 L362.23,324.96 Z" fill="#222" stroke="none"/><line x1="222" y1="401.7" x2="360" y2="353"/><path d="M360.00,353.00 L356.08,355.71 L355.25,353.35 Z" fill="#222" stroke="none"/><line x1="222" y1="443" x2="297.6" y2="413.6"/><path d="M297.60,413.60 L293.77,416.43 L292.86,414.10 Z" fill="#222" stroke="none"/><line x1="222" y1="488" x2="290" y2="458"/><path d="M290.00,458.00 L286.30,461.00 L285.29,458.71 Z" fill="#222" stroke="none"/><line x1="628" y1="360.3" x2="580" y2="370.4"/><path d="M580.00,370.40 L584.24,368.23 L584.76,370.68 Z" fill="#222" stroke="none"/><line x1="630.6" y1="398.6" x2="536" y2="442.4"/><path d="M536.00,442.40 L539.65,439.33 L540.70,441.60 Z" fill="#222" stroke="none"/><line x1="630.6" y1="437.4" x2="530.5" y2="458.4"/><path d="M530.50,458.40 L534.75,456.23 L535.26,458.68 Z" fill="#222" stroke="none"/><line x1="629.9" y1="476.5" x2="530.5" y2="462.5"/><path d="M530.50,462.50 L535.23,461.90 L534.88,464.38 Z" fill="#222" stroke="none"/><line x1="627" y1="511.6" x2="524.8" y2="478"/><path d="M524.80,478.00 L529.56,478.25 L528.78,480.62 Z" fill="#222" stroke="none"/><line x1="630.8" y1="545.8" x2="523" y2="502"/><path d="M523.00,502.00 L527.73,502.57 L526.79,504.89 Z" fill="#222" stroke="none"/><line x1="628.6" y1="584.3" x2="514.7" y2="548"/><path d="M514.70,548.00 L519.46,548.21 L518.70,550.59 Z" fill="#222" stroke="none"/><line x1="630.8" y1="620" x2="521.3" y2="607.6"/><path d="M521.30,607.60 L526.01,606.88 L525.73,609.36 Z" fill="#222" stroke="none"/></g>
<g font-family="Liberation Sans, sans-serif" font-size="9.7" fill="#222" text-rendering="geometricPrecision"><text x="147.6" y="133.5" textLength="63.6" lengthAdjust="spacingAndGlyphs">[S0356x2/426]</text><text x="183.8" y="124.2" textLength="16.6" lengthAdjust="spacingAndGlyphs">(2x)</text><text x="147.6" y="166.6" textLength="78.5" lengthAdjust="spacingAndGlyphs">[OR0490030/151]</text><text x="183.8" y="157.0" textLength="16.6" lengthAdjust="spacingAndGlyphs">(3x)</text><text x="147.6" y="200.0" textLength="72.4" lengthAdjust="spacingAndGlyphs">[WJ055006/249]</text><text x="147.6" y="230.0" textLength="48.6" lengthAdjust="spacingAndGlyphs">[XS92/089]</text><text x="147.6" y="259.4" textLength="72.4" lengthAdjust="spacingAndGlyphs">[WJ055014/591]</text><text x="147.2" y="294.7" textLength="73.6" lengthAdjust="spacingAndGlyphs">[315163080/255]</text><text x="183.39999999999998" y="284.6" textLength="16.6" lengthAdjust="spacingAndGlyphs">(6x)</text><text x="147.8" y="330.5" textLength="72.6" lengthAdjust="spacingAndGlyphs">[WJ070028/256]</text><text x="147.8" y="366.8" textLength="72.6" lengthAdjust="spacingAndGlyphs">[WJ070027/133]</text><text x="147.8" y="405.8" textLength="72.2" lengthAdjust="spacingAndGlyphs">[WJ070005/551]</text><text x="147.8" y="447.6" textLength="72.2" lengthAdjust="spacingAndGlyphs">[WJ055004/320]</text><text x="147.8" y="491.7" textLength="72.2" lengthAdjust="spacingAndGlyphs">[WJ055005/249]</text><text x="632.2" y="373.6" textLength="72.6" lengthAdjust="spacingAndGlyphs">[WJ055013/591]</text><text x="632.2" y="412.4" textLength="72.6" lengthAdjust="spacingAndGlyphs">[WJ055023/527]</text><text x="632.2" y="451.4" textLength="72.6" lengthAdjust="spacingAndGlyphs">[WJ070009/150]</text><text x="632.3" y="490.4" textLength="78.6" lengthAdjust="spacingAndGlyphs">[OR0043024/151]</text><text x="632.3" y="526.7" textLength="71.5" lengthAdjust="spacingAndGlyphs">[WJ055010/256]</text><text x="632.3" y="559.6" textLength="71.9" lengthAdjust="spacingAndGlyphs">[WJ055003/168]</text><text x="632.3" y="598.9" textLength="71.9" lengthAdjust="spacingAndGlyphs">[WJ100037/152]</text><text x="632.3" y="634.3" textLength="71.9" lengthAdjust="spacingAndGlyphs">[WJ055009/025]</text></g>
</svg>
</body></html>
